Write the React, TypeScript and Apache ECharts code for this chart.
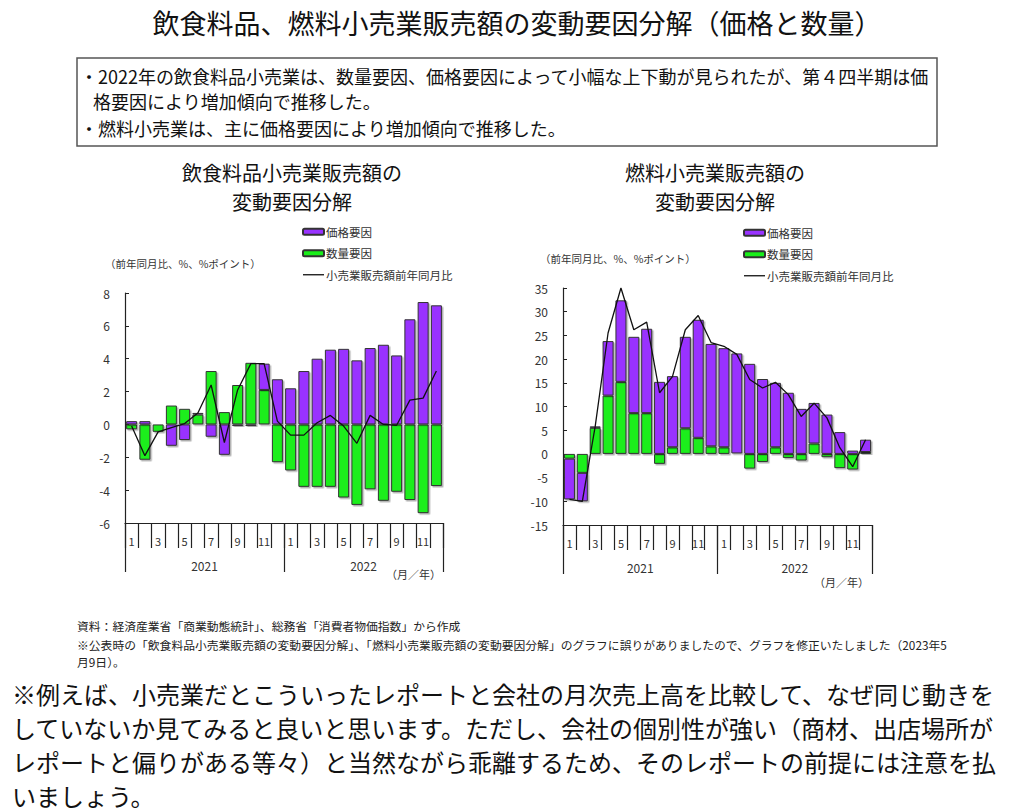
import React, { useEffect, useRef } from "react";
import * as echarts from "echarts";

const months = ["1","2","3","4","5","6","7","8","9","10","11","12","1","2","3","4","5","6","7","8","9","10","11","12"];
const years = ["2021", "2022"];
const yearTicksLabel = "（月／年）";

const foodPrice = [0.2, 0.2, -0.05, -1.3, -0.95, 0.1, -0.75, -1.85, -0.1, -0.1, 1.6, 2.75, 2.2, 3.25, 4.0, 4.55, 4.6, 3.9, 4.65, 4.85, 4.2, 6.4, 7.45, 7.25];
const foodQty = [-0.3, -2.15, -0.45, 1.15, 0.95, 0.6, 3.25, 0.75, 2.4, 3.75, 2.1, -2.3, -2.8, -3.8, -3.8, -3.8, -4.45, -4.9, -3.95, -4.65, -4.1, -4.6, -5.4, -3.75];
const foodTotal = [-0.1, -1.9, -0.45, -0.2, 0.05, 0.7, 2.4, -1.1, 2.1, 3.7, 3.7, 0.2, -0.65, -0.65, 0.1, 0.55, -0.1, -1.15, 0.55, 0.0, -0.05, 1.48, 1.6, 3.25];

const fuelPrice = [-8.6, -6.0, 0.3, 11.5, 17.2, 16.1, 17.8, 15.2, 15.0, 19.3, 24.9, 21.6, 20.9, 21.1, 19.0, 15.8, 13.6, 12.9, 9.5, 8.55, 8.3, 4.6, 0.7, 2.6];
const fuelQty = [-1.0, -4.0, 5.5, 12.3, 15.2, 8.6, 8.6, -2.1, 1.4, 5.4, 3.4, 1.6, 1.4, 0.1, -3.1, -1.7, 1.4, -0.85, -1.4, 2.2, -0.7, -3.0, -3.3, 0.4];
const fuelTotal = [-9.6, -10.0, 5.8, 25.5, 35.0, 26.2, 27.8, 12.9, 16.3, 26.2, 29.2, 23.5, 22.7, 21.0, 15.7, 13.9, 15.1, 12.5, 7.9, 10.7, 7.6, 1.3, -2.7, 3.0];

const seriesNames = ["価格要因", "数量要因", "小売業販売額前年同月比"];

const mainTitle = "飲食料品、燃料小売業販売額の変動要因分解（価格と数量）";
const boxLines = [
  "・2022年の飲食料品小売業は、数量要因、価格要因によって小幅な上下動が見られたが、第４四半期は価",
  "格要因により増加傾向で推移した。",
  "・燃料小売業は、主に価格要因により増加傾向で推移した。",
];
const leftTitle = ["飲食料品小売業販売額の", "変動要因分解"];
const rightTitle = ["燃料小売業販売額の", "変動要因分解"];
const unitLabel = "（前年同月比、%、%ポイント）";
const notes = [
  "資料：経済産業省「商業動態統計」、総務省「消費者物価指数」から作成",
  "※公表時の「飲食料品小売業販売額の変動要因分解」、「燃料小売業販売額の変動要因分解」のグラフに誤りがありましたので、グラフを修正いたしました（2023年5",
  "月9日）。",
];
const paragraph = [
  "※例えば、小売業だとこういったレポートと会社の月次売上高を比較して、なぜ同じ動きを",
  "していないか見てみると良いと思います。ただし、会社の個別性が強い（商材、出店場所が",
  "レポートと偏りがある等々）と当然ながら乖離するため、そのレポートの前提には注意を払",
  "いましょう。",
];

const FONT = "'Noto Sans CJK JP', 'Noto Sans', sans-serif";
const PURPLE = "#9933ff";
const GREEN = "#1aee1a";

function txt(text: string, x: number, y: number, fontSize: number, align = "left", fill = "#111") {
  return {
    type: "text",
    x,
    y,
    silent: true,
    style: { text, fontSize, fontFamily: FONT, fill, textAlign: align, textVerticalAlign: "middle" },
  };
}

export default function App() {
  const ref = useRef<HTMLDivElement>(null);
  useEffect(() => {
    if (!ref.current) return;
    const chart = echarts.init(ref.current, undefined, { renderer: "svg" });

    const barStyle = (color: string) => ({
      color,
      borderColor: "#333",
      borderWidth: 1,
      shadowColor: "rgba(0,0,0,0.3)",
      shadowOffsetX: 1.5,
      shadowOffsetY: 1.5,
      shadowBlur: 1,
    });

    const monthAxis = (gridIndex: number) => ({
      type: "category",
      gridIndex,
      data: months,
      position: "bottom",
      axisLine: { onZero: false, lineStyle: { color: "#222", width: 1.2 } },
      axisTick: { show: true, interval: 0, length: 25, lineStyle: { color: "#222", width: 1.2 } },
      axisLabel: {
        interval: 0,
        margin: 12,
        fontSize: 11,
        fontFamily: FONT,
        color: "#333",
        formatter: (v: string) => (parseInt(v, 10) % 2 === 1 ? v : ""),
      },
      splitLine: { show: false },
    });

    const yearAxis = (gridIndex: number) => ({
      type: "category",
      gridIndex,
      data: years,
      position: "bottom",
      axisLine: { show: false, onZero: false },
      axisTick: { show: true, interval: 0, length: 49, lineStyle: { color: "#222", width: 1.2 } },
      axisLabel: { interval: 0, margin: 36, fontSize: 12, fontFamily: FONT, color: "#333" },
      splitLine: { show: false },
    });

    const valueAxis = (gridIndex: number, min: number, max: number, interval: number) => ({
      type: "value",
      gridIndex,
      min,
      max,
      interval,
      axisLine: { show: true, lineStyle: { color: "#222", width: 1.2 } },
      axisTick: { show: true, inside: true, length: 4, lineStyle: { color: "#222" } },
      axisLabel: { margin: 15, fontSize: 12, fontFamily: FONT, color: "#333" },
      splitLine: { show: false },
    });

    const legendCommon = {
      orient: "vertical",
      itemWidth: 21,
      itemHeight: 6,
      itemGap: 10,
      padding: 0,
      selectedMode: false,
      textStyle: { fontSize: 11.5, fontFamily: FONT, color: "#333", padding: [0, 0, 0, -3] },
      data: [
        seriesNames[0],
        seriesNames[1],
        {
          name: seriesNames[2],
          itemStyle: { color: "rgba(0,0,0,0)", borderColor: "rgba(0,0,0,0)", borderWidth: 0, opacity: 0 },
          lineStyle: { color: "#111", width: 1.3, opacity: 1 },
        },
      ],
    };

    const graphics: any[] = [];
    graphics.push(txt(mainTitle, 517, 22, 27, "center"));
    graphics.push({
      type: "rect",
      silent: true,
      shape: { x: 77, y: 58, width: 860, height: 88 },
      style: { fill: "none", stroke: "#555", lineWidth: 1.5 },
    });
    graphics.push(txt(boxLines[0], 80, 76, 18));
    graphics.push(txt(boxLines[1], 93, 101, 18));
    graphics.push(txt(boxLines[2], 80, 128, 18));
    graphics.push(txt(leftTitle[0], 292, 172, 20, "center"));
    graphics.push(txt(leftTitle[1], 292, 201, 20, "center"));
    graphics.push(txt(rightTitle[0], 715, 172, 20, "center"));
    graphics.push(txt(rightTitle[1], 715, 201, 20, "center"));
    graphics.push(txt(unitLabel, 105, 263, 10.5, "left", "#333"));
    graphics.push(txt(unitLabel, 540, 258, 10.5, "left", "#333"));
    graphics.push(txt(yearTicksLabel, 386, 574, 11, "left", "#333"));
    graphics.push(txt(yearTicksLabel, 814, 582, 11, "left", "#333"));
    graphics.push(txt(notes[0], 77, 625, 11.8, "left", "#222"));
    graphics.push(txt(notes[1], 77, 644, 11.8, "left", "#222"));
    graphics.push(txt(notes[2], 77, 661, 11.8, "left", "#222"));
    paragraph.forEach((line, i) => graphics.push(txt(line, 12, 693 + i * 34, 24, "left", "#111")));

    chart.setOption({
      animation: false,
      backgroundColor: "#fff",
      grid: [
        { left: 125, top: 293, width: 318, height: 230, containLabel: false },
        { left: 563, top: 288, width: 309, height: 237, containLabel: false },
      ],
      xAxis: [monthAxis(0), yearAxis(0), monthAxis(1), yearAxis(1)],
      yAxis: [valueAxis(0, -6, 8, 2), valueAxis(1, -15, 35, 5)],
      legend: [
        { ...legendCommon, left: 302, top: 226 },
        { ...legendCommon, left: 743, top: 227 },
      ],
      series: [
        { name: seriesNames[1], type: "bar", xAxisIndex: 0, yAxisIndex: 0, stack: "food", data: foodQty, barWidth: 11, itemStyle: barStyle(GREEN) },
        { name: seriesNames[0], type: "bar", xAxisIndex: 0, yAxisIndex: 0, stack: "food", data: foodPrice, barWidth: 11, itemStyle: barStyle(PURPLE) },
        { name: seriesNames[2], type: "line", xAxisIndex: 0, yAxisIndex: 0, data: foodTotal, symbol: "none", lineStyle: { color: "#111", width: 1.3 }, itemStyle: { color: "#111" }, z: 5 },
        { name: seriesNames[1], type: "bar", xAxisIndex: 2, yAxisIndex: 1, stack: "fuel", data: fuelQty, barWidth: 11, itemStyle: barStyle(GREEN) },
        { name: seriesNames[0], type: "bar", xAxisIndex: 2, yAxisIndex: 1, stack: "fuel", data: fuelPrice, barWidth: 11, itemStyle: barStyle(PURPLE) },
        { name: seriesNames[2], type: "line", xAxisIndex: 2, yAxisIndex: 1, data: fuelTotal, symbol: "none", lineStyle: { color: "#111", width: 1.3 }, itemStyle: { color: "#111" }, z: 5 },
      ],
      graphic: graphics,
    });

    return () => chart.dispose();
  }, []);

  return (
    <div
      ref={ref}
      style={{ position: "absolute", left: 0, top: 0, width: 1026, height: 811 }}
    />
  );
}
